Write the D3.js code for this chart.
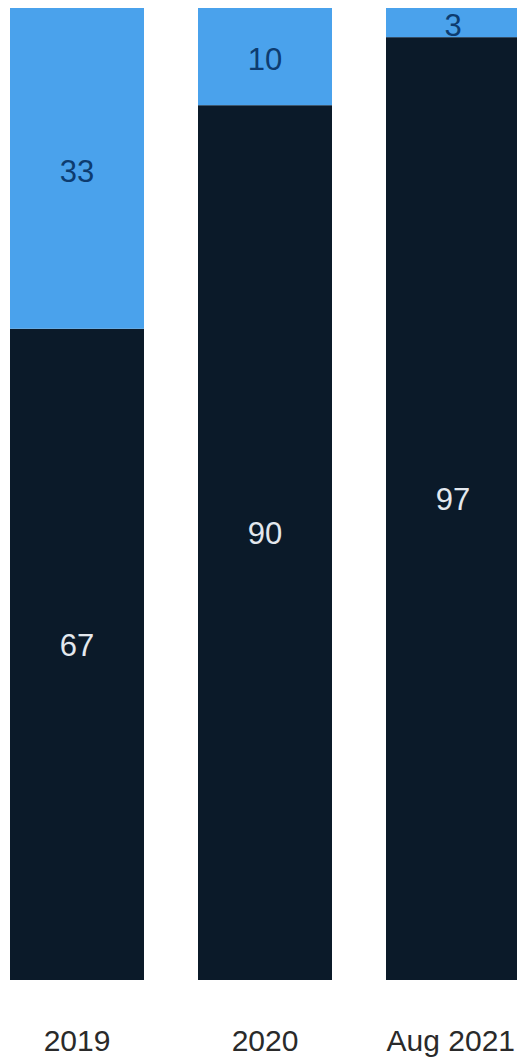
<!DOCTYPE html>
<html>
<head>
<meta charset="utf-8">
<script src="https://cdn.jsdelivr.net/npm/d3@7"></script>
<style>
  html, body { margin: 0; padding: 0; background: #ffffff; }
  svg { display: block; }
</style>
</head>
<body>
<svg id="chart" width="517" height="1060"></svg>
<script>
const categories = ["2019", "2020", "Aug 2021"];
const bottomValues = [67, 90, 97];
const topValues = [33, 10, 3];

const W = 517, H = 1060;
const svg = d3.select("#chart");

const x = d3.scaleBand().domain(categories).range([10, 520]).paddingInner(54 / 188).paddingOuter(0);
const y = d3.scaleLinear().domain([0, 100]).range([980, 8]);

const rows = categories.map((c, i) => ({ cat: c, bottom: bottomValues[i], top: topValues[i] }));
const stack = d3.stack().keys(["bottom", "top"])(rows);
const colors = { bottom: "#0b1a29", top: "#4aa2ec" };
const labelColors = { bottom: "#e3e8ee", top: "#0d3c70" };
const labelDy = { bottom: -10, top: 2 };

const g = svg.append("g");
stack.forEach(layer => {
  const key = layer.key;
  g.selectAll(null).data(layer).enter().append("rect")
    .attr("x", d => x(d.data.cat))
    .attr("width", x.bandwidth())
    .attr("y", d => y(d[1]))
    .attr("height", d => y(d[0]) - y(d[1]))
    .attr("fill", colors[key]);
  g.selectAll(null).data(layer).enter().append("text")
    .attr("x", d => x(d.data.cat) + x.bandwidth() / 2)
    .attr("y", d => (y(d[0]) + y(d[1])) / 2 + labelDy[key])
    .attr("dy", "0.36em")
    .attr("text-anchor", "middle")
    .attr("font-family", "'Liberation Sans', Arial, sans-serif")
    .attr("font-size", 31)
    .attr("fill", labelColors[key])
    .text(d => d.data[key]);
});

const axis = d3.axisBottom(x).tickSize(0).tickPadding(0);
const ax = svg.append("g").attr("transform", "translate(0,1051)").call(axis);
ax.select(".domain").remove();
ax.selectAll("text")
  .attr("dy", "0")
  .attr("y", 0)
  .attr("font-family", "'Liberation Sans', Arial, sans-serif")
  .attr("font-size", 30)
  .attr("fill", "#2a2a2a")
  .each(function () {
    const t = d3.select(this);
    const b = this.getBBox();
    const tickX = this.parentNode.transform.baseVal.consolidate().matrix.e;
    const right = tickX + b.x + b.width;
    if (right > W - 2) t.attr("x", (W - 2) - right);
  });
</script>
</body>
</html>
